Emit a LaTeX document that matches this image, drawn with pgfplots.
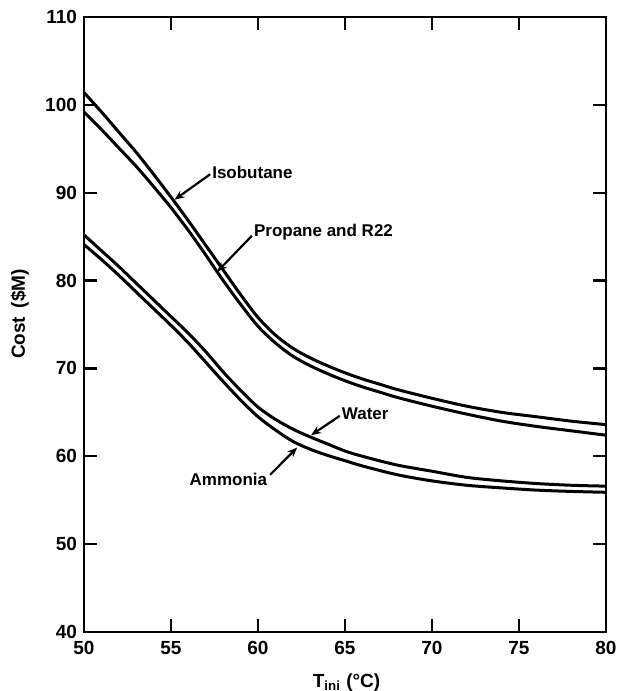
\documentclass[border=0pt]{standalone}
\usepackage{fontspec}
\setmainfont{Liberation Sans}
\usepackage{pgfplots}
\pgfplotsset{compat=1.18}
\usetikzlibrary{arrows.meta}
\begin{document}
\begin{tikzpicture}
\useasboundingbox (0,0) rectangle (313pt,345.5pt);
\begin{axis}[
  at={(42pt,29.5pt)}, anchor=south west,
  scale only axis, width=261pt, height=307.5pt,
  xmin=50, xmax=80, ymin=40, ymax=110,
  xtick={50,55,...,80}, ytick={40,50,...,110},
  tick align=inside, major tick length=6.5pt,
  every tick/.style={black, line width=1.2pt},
  axis line style={line width=1.4pt},
  tick label style={font=\fontsize{9.5}{10}\selectfont\bfseries},
  /pgf/number format/assume math mode=true,
  xticklabel style={yshift=-1pt},
  xlabel={T\textsubscript{ini} (\textdegree C)},
  ylabel={Cost \,(\$M)},
  xlabel style={at={(axis description cs:0.503,-0.0667)}, anchor=north, inner sep=0pt, font=\fontsize{9.5}{10}\selectfont\bfseries},
  ylabel style={at={(axis description cs:-0.123,0.517)}, anchor=center, inner sep=0pt, font=\fontsize{9.5}{10}\selectfont\bfseries},
  clip=false,
]
% Isobutane
\addplot[black, line width=1.5pt, smooth] coordinates {
(50,101.4) (51,99.2) (52,96.9) (53,94.6) (54,92.1) (55,89.5) (56,86.8) (57,84.0) (58,81.2) (59,78.4) (60,75.8) (61,73.8) (62,72.3) (63,71.2) (64,70.3) (65,69.5) (66,68.8) (67,68.2) (68,67.6) (70,66.6) (72,65.7) (74,65.0) (76,64.5) (78,64.0) (80,63.6)};
% Propane and R22
\addplot[black, line width=1.5pt, smooth] coordinates {
(50,99.2) (51,97.2) (52,95.1) (53,93.0) (54,90.7) (55,88.3) (56,85.7) (57,82.9) (58,80.0) (59,77.3) (60,74.8) (61,72.9) (62,71.4) (63,70.3) (64,69.4) (65,68.6) (66,67.9) (67,67.3) (68,66.7) (70,65.7) (72,64.8) (74,64.0) (76,63.4) (78,62.9) (80,62.4)};
% Water
\addplot[black, line width=1.5pt, smooth] coordinates {
(50,85.2) (51,83.4) (52,81.6) (53,79.7) (54,77.8) (55,75.9) (56,74.0) (57,71.9) (58,69.6) (59,67.5) (60,65.6) (61,64.2) (62,63.1) (63,62.2) (64,61.4) (65,60.6) (66,60.0) (68,59.0) (70,58.3) (72,57.6) (74,57.2) (76,56.9) (78,56.7) (80,56.6)};
% Ammonia
\addplot[black, line width=1.5pt, smooth] coordinates {
(50,84.1) (51,82.4) (52,80.6) (53,78.7) (54,76.8) (55,74.9) (56,72.9) (57,70.7) (58,68.5) (59,66.4) (60,64.5) (61,63.0) (62,61.7) (63,60.8) (64,60.1) (65,59.5) (66,58.9) (68,57.9) (70,57.2) (72,56.7) (74,56.4) (76,56.15) (78,56.0) (80,55.9)};
% annotations
\tikzset{lab/.style={font=\fontsize{8.5}{10}\selectfont\bfseries, inner sep=0pt},
         arr/.style={-{Stealth[length=5pt,width=4pt]}, line width=1.1pt}}
\node[lab, anchor=west] at (axis cs:57.35,92.3) {Isobutane};
\draw[arr] (axis cs:57.25,92.1) -- (axis cs:55.2,89.2);
\node[lab, anchor=west] at (axis cs:59.75,85.5) {Propane and R22};
\draw[arr] (axis cs:59.65,85.1) -- (axis cs:57.65,81.0);
\node[lab, anchor=west] at (axis cs:64.8,64.8) {Water};
\draw[arr] (axis cs:64.7,64.6) -- (axis cs:63.05,62.4);
\node[lab, anchor=east] at (axis cs:60.55,57.4) {Ammonia};
\draw[arr] (axis cs:60.7,57.9) -- (axis cs:62.25,61.0);
\end{axis}
\end{tikzpicture}
\end{document}
